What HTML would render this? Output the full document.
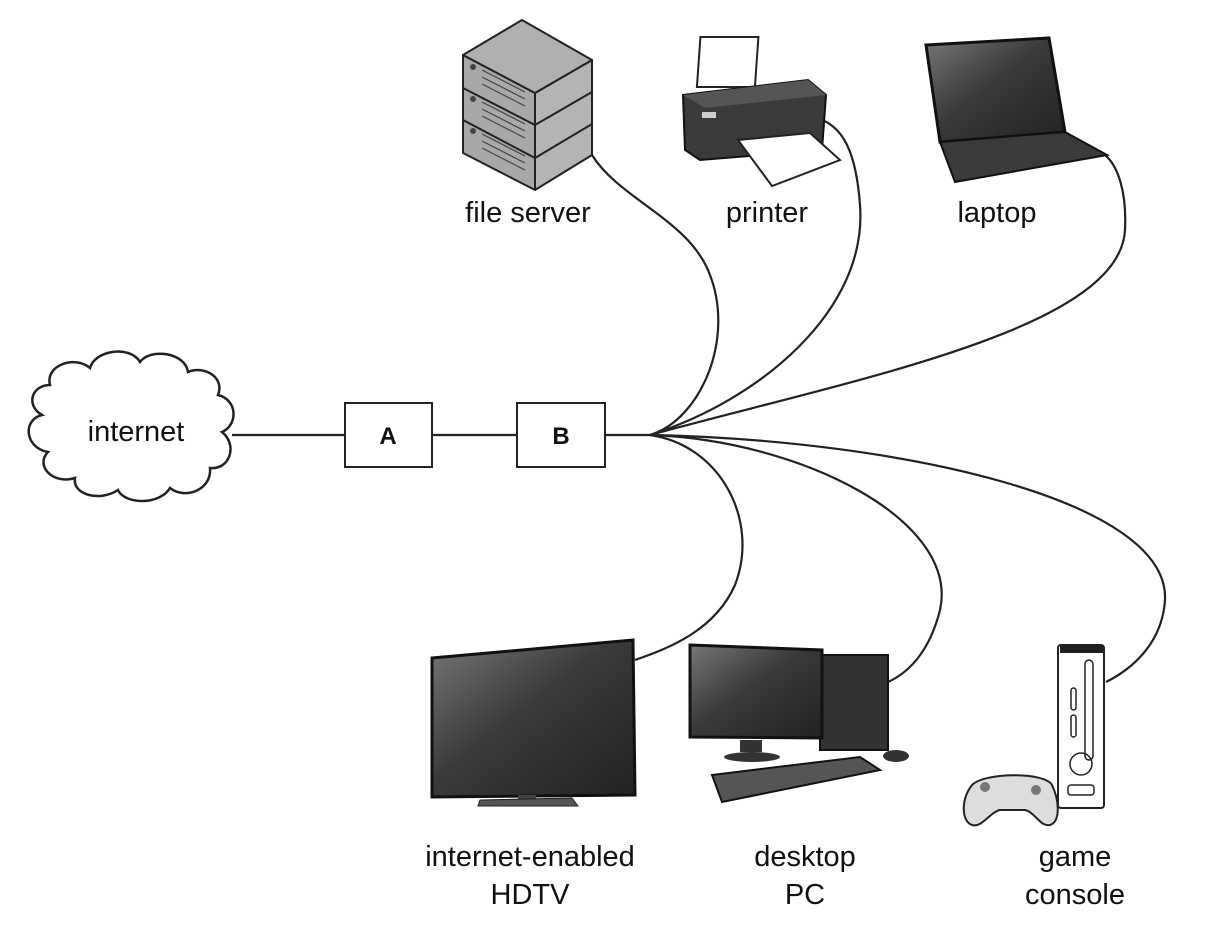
<!DOCTYPE html>
<html><head><meta charset="utf-8"><style>
html,body{margin:0;padding:0;background:#fff;}
svg{display:block;}
text{font-family:"Liberation Sans",Arial,sans-serif;fill:#111;}
</style></head><body>
<svg width="1217" height="928" viewBox="0 0 1217 928" xmlns="http://www.w3.org/2000/svg">
<defs>
<linearGradient id="scr" x1="0" y1="0" x2="1" y2="1">
<stop offset="0" stop-color="#777"/><stop offset="0.45" stop-color="#3a3a3a"/><stop offset="1" stop-color="#222"/>
</linearGradient>
</defs>
<!-- cloud -->
<path d="M50,385 C45,365 75,355 90,368 C95,350 130,345 140,362 C150,348 185,352 188,372 C205,365 225,378 218,395 C238,400 238,425 222,432 C238,445 230,470 210,468 C212,490 185,500 170,488 C160,505 125,505 118,490 C100,502 72,495 75,478 C52,485 35,465 48,452 C25,448 22,420 42,415 C25,405 32,385 50,385 Z" fill="#fff" stroke="#222" stroke-width="2.5"/>
<text x="136" y="441" font-size="29" text-anchor="middle">internet</text>
<!-- lines -->
<g stroke="#222" stroke-width="2.2" fill="none">
<line x1="232" y1="435" x2="345" y2="435"/>
<line x1="432" y1="435" x2="517" y2="435"/>
<line x1="605" y1="435" x2="652" y2="435"/>
<path d="M650,435 C700,420 735,340 710,275 C690,220 620,200 592,155"/>
<path d="M650,435 C760,400 868,310 860,205 C856,150 842,128 822,120"/>
<path d="M650,435 C850,380 1120,330 1125,230 C1127,190 1117,165 1105,155"/>
<path d="M650,435 C720,445 760,520 735,585 C715,630 670,648 635,660"/>
<path d="M650,435 C800,440 960,520 940,610 C930,650 910,672 888,682"/>
<path d="M650,435 C900,440 1170,500 1165,600 C1162,645 1130,670 1106,682"/>
</g>
<rect x="345" y="403" width="87" height="64" fill="#fff" stroke="#222" stroke-width="2"/>
<text x="388" y="444" font-size="24" font-weight="bold" text-anchor="middle">A</text>
<rect x="517" y="403" width="88" height="64" fill="#fff" stroke="#222" stroke-width="2"/>
<text x="561" y="444" font-size="24" font-weight="bold" text-anchor="middle">B</text>

<!-- file server -->
<g stroke="#222" stroke-width="2" stroke-linejoin="round">
<path d="M463,55 L535,93 L535,190 L463,153 Z" fill="#a8a8a8"/>
<path d="M535,93 L592,60 L592,155 L535,190 Z" fill="#b4b4b4"/>
<path d="M522,20 L592,60 L535,93 L463,55 Z" fill="#b0b0b0"/>
<path d="M463,88 L535,125 L592,92 M463,120 L535,158 L592,124" fill="none"/>
</g>
<g fill="#444">
<circle cx="473" cy="67" r="3"/><circle cx="473" cy="99" r="3"/><circle cx="473" cy="131" r="3"/>
</g>
<g stroke="#444" stroke-width="1.2" fill="none">
<path d="M482,70 L525,92 M482,77 L525,99 M482,84 L525,106"/>
<path d="M482,102 L525,124 M482,109 L525,131 M482,116 L525,138"/>
<path d="M482,134 L525,156 M482,141 L525,163 M482,148 L525,170"/>
</g>
<!-- printer -->
<rect x="703" y="37" width="58" height="50" fill="#fff" stroke="#222" stroke-width="2" transform="skewX(-4)"/>
<path d="M683,95 L808,80 L826,95 L822,150 L700,160 L685,150 Z" fill="#3a3a3a" stroke="#111" stroke-width="2"/>
<path d="M683,95 L808,80 L826,95 L705,108 Z" fill="#555"/>
<rect x="702" y="112" width="14" height="6" fill="#ccc"/>
<path d="M738,140 L810,133 L840,160 L772,186 Z" fill="#fff" stroke="#222" stroke-width="2"/>
<!-- laptop -->
<path d="M926,45 L1049,38 L1065,132 L940,142 Z" fill="url(#scr)" stroke="#111" stroke-width="3"/>
<path d="M940,142 L1065,132 L1107,155 L955,182 Z" fill="#3a3a3a" stroke="#111" stroke-width="2"/>
<!-- TV -->
<path d="M432,658 L633,640 L635,795 L432,797 Z" fill="url(#scr)" stroke="#111" stroke-width="3"/>
<rect x="518" y="795" width="18" height="6" fill="#444"/>
<path d="M480,800 L572,798 L578,806 L478,806 Z" fill="#555" stroke="#222"/>
<!-- desktop -->
<rect x="820" y="655" width="68" height="95" fill="#333" stroke="#111" stroke-width="2"/>
<path d="M690,645 L822,650 L822,738 L690,737 Z" fill="url(#scr)" stroke="#111" stroke-width="3"/>
<rect x="740" y="740" width="22" height="12" fill="#333"/>
<ellipse cx="752" cy="757" rx="28" ry="5" fill="#333"/>
<path d="M712,775 L860,757 L880,770 L722,802 Z" fill="#555" stroke="#111" stroke-width="2"/>
<ellipse cx="896" cy="756" rx="13" ry="6" fill="#333"/>
<!-- console -->
<rect x="1058" y="645" width="46" height="163" rx="3" fill="#fff" stroke="#222" stroke-width="2"/>
<rect x="1060" y="645" width="43" height="8" fill="#222"/>
<rect x="1085" y="660" width="8" height="100" rx="4" fill="none" stroke="#222" stroke-width="1.5"/>
<rect x="1071" y="688" width="5" height="22" rx="2.5" fill="none" stroke="#222" stroke-width="1.5"/>
<rect x="1071" y="715" width="5" height="22" rx="2.5" fill="none" stroke="#222" stroke-width="1.5"/>
<circle cx="1081" cy="764" r="11" fill="none" stroke="#222" stroke-width="1.5"/>
<rect x="1068" y="785" width="26" height="10" rx="3" fill="none" stroke="#222" stroke-width="1.5"/>
<path d="M972,785 C985,772 1045,772 1052,785 C1060,802 1060,822 1050,825 C1040,827 1035,812 1025,810 L1000,810 C990,812 982,828 972,825 C962,822 960,800 972,785 Z" fill="#ddd" stroke="#222" stroke-width="2"/>
<circle cx="1036" cy="790" r="5" fill="#777"/><circle cx="985" cy="787" r="5" fill="#777"/>
<!-- labels -->
<g font-size="29" text-anchor="middle">
<text x="528" y="222">file server</text>
<text x="767" y="222">printer</text>
<text x="997" y="222">laptop</text>
<text x="530" y="866">internet-enabled</text>
<text x="530" y="904">HDTV</text>
<text x="805" y="866">desktop</text>
<text x="805" y="904">PC</text>
<text x="1075" y="866">game</text>
<text x="1075" y="904">console</text>
</g>
</svg>
</body></html>
